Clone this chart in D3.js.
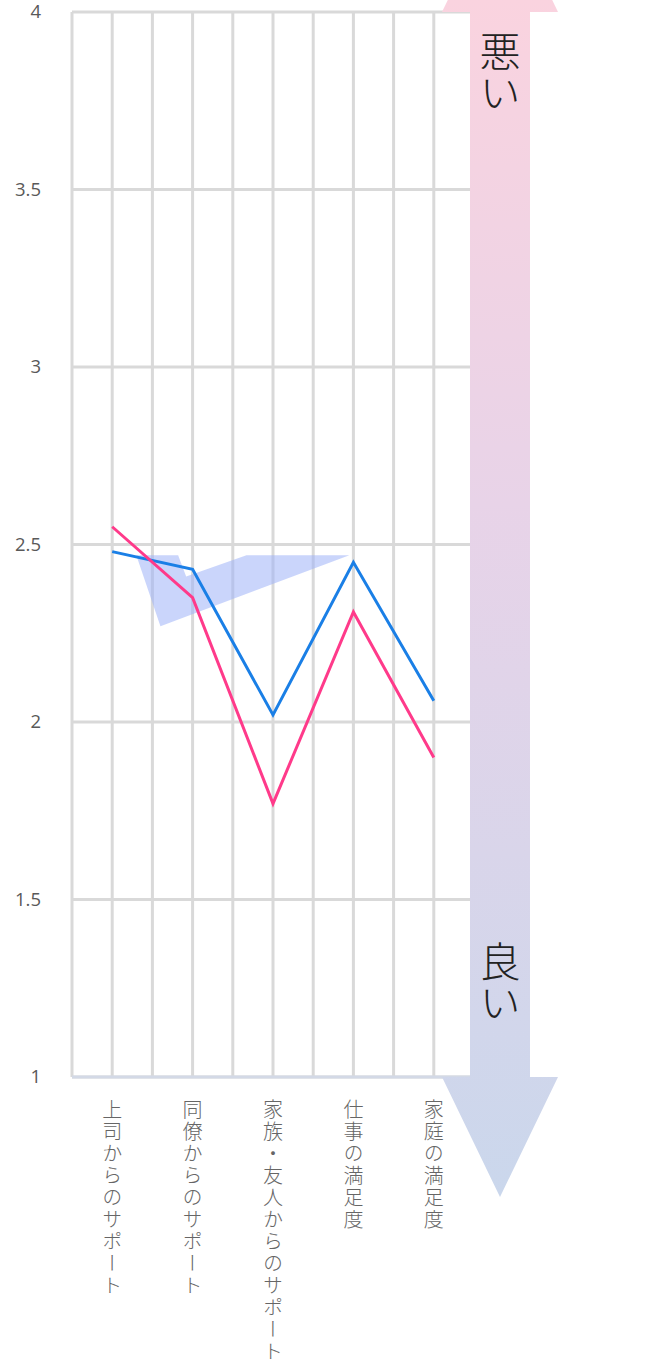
<!DOCTYPE html>
<html>
<head>
<meta charset="utf-8">
<script src="https://cdn.jsdelivr.net/npm/d3@7"></script>
<style>
  body { margin: 0; background: #fff; }
  svg { display: block; }
</style>
</head>
<body>
<div id="chart"></div>
<script>
// categories and series
const categories = ['上司からのサポート', '同僚からのサポート', '家族・友人からのサポート', '仕事の満足度', '家庭の満足度'];
const blueValues = [2.48, 2.43, 2.02, 2.45, 2.06];
const pinkValues = [2.55, 2.35, 1.77, 2.31, 1.90];
const yTicks = [1, 1.5, 2, 2.5, 3, 3.5, 4];

// stray translucent shape (position in category index units, value)
const shapeIdx = [0.3, 0.82, 0.92, 1.67, 2.95, 0.6];
const shapeVal = [2.47, 2.47, 2.41, 2.47, 2.47, 2.27];

const svgWidth = 668;
const svgHeight = 1365;

const margin = { top: 12, right: 194, bottom: 288, left: 72 };
const width = svgWidth - margin.left - margin.right;
const height = svgHeight - margin.top - margin.bottom;

const svg = d3.select('#chart')
  .append('svg')
  .attr('width', svgWidth)
  .attr('height', svgHeight);

const g = svg.append('g')
  .attr('transform', `translate(${margin.left}, ${margin.top})`);

const xScale = d3.scaleBand()
  .domain(categories)
  .range([0, width]);

const yScale = d3.scaleLinear()
  .domain([1, 4])
  .range([height, 0]);

// index -> center of band
const idxScale = d3.scaleLinear()
  .domain([0, categories.length - 1])
  .range([xScale.bandwidth() / 2, width - xScale.bandwidth() / 2]);

const gridColor = '#d9d9d9';

// horizontal grid
g.selectAll('.hgrid')
  .data(yTicks)
  .enter()
  .append('line')
  .attr('x1', 0)
  .attr('x2', width)
  .attr('y1', d => yScale(d))
  .attr('y2', d => yScale(d))
  .attr('stroke', gridColor)
  .attr('stroke-width', 3);

// vertical grid: band edges and centers
const vLines = [];
categories.forEach(c => {
  vLines.push(xScale(c));
  vLines.push(xScale(c) + xScale.bandwidth() / 2);
});
vLines.push(width);

g.selectAll('.vgrid')
  .data(vLines)
  .enter()
  .append('line')
  .attr('x1', d => d)
  .attr('x2', d => d)
  .attr('y1', yScale(4))
  .attr('y2', yScale(1))
  .attr('stroke', gridColor)
  .attr('stroke-width', 3);

// baseline with a faint blue tint
g.append('line')
  .attr('x1', 0)
  .attr('x2', width)
  .attr('y1', yScale(1))
  .attr('y2', yScale(1))
  .attr('stroke', '#d3d9e6')
  .attr('stroke-width', 3);

// y tick labels
g.selectAll('.ytick')
  .data(yTicks)
  .enter()
  .append('text')
  .attr('x', -31)
  .attr('y', d => yScale(d))
  .attr('dy', '0.35em')
  .attr('text-anchor', 'end')
  .style('font-family', '"Open Sans", "Noto Sans", sans-serif')
  .style('font-size', '18.5px')
  .attr('fill', '#595959')
  .text(d => d);

// category labels, vertical
g.selectAll('.xlabel')
  .data(categories)
  .enter()
  .append('text')
  .attr('x', d => xScale(d) + xScale.bandwidth() / 2)
  .attr('y', height + 22)
  .style('writing-mode', 'vertical-rl')
  .style('font-family', '"Noto Sans CJK JP", sans-serif')
  .style('font-size', '20px')
  .style('letter-spacing', '2px')
  .style('font-weight', 300)
  .attr('fill', '#666')
  .text(d => d);

// translucent shape
const shapePts = shapeIdx.map((v, i) => [idxScale(v), yScale(shapeVal[i])]);
g.append('path')
  .attr('d', d3.line()(shapePts) + 'Z')
  .attr('fill', '#9fb3f7')
  .attr('opacity', 0.55);

// lines
const line = d3.line()
  .x((d, i) => idxScale(i))
  .y(d => yScale(d));

g.append('path')
  .attr('d', line(blueValues))
  .attr('fill', 'none')
  .attr('stroke', '#1a7fe6')
  .attr('stroke-width', 3);

g.append('path')
  .attr('d', line(pinkValues))
  .attr('fill', 'none')
  .attr('stroke', '#ff3a8a')
  .attr('stroke-width', 3);

// gradient double arrow on the right
const defs = svg.append('defs');
const grad = defs.append('linearGradient')
  .attr('id', 'arrowGrad')
  .attr('gradientUnits', 'userSpaceOnUse')
  .attr('x1', 0).attr('x2', 0)
  .attr('y1', 0).attr('y2', 1200);
grad.append('stop').attr('offset', '0%').attr('stop-color', '#fad3df');
grad.append('stop').attr('offset', '42%').attr('stop-color', '#e8d3e8');
grad.append('stop').attr('offset', '100%').attr('stop-color', '#cad7ec');

const ax = margin.left + width - 4;   // arrow body left edge
const bodyW = 60;
const headHalf = 58;
const cx = ax + bodyW / 2;
const yTop = margin.top + yScale(4);
const yBot = margin.top + yScale(1);
const headLen = 120;

const arrowPts = [
  [ax, yTop], [cx - headHalf, yTop], [cx, yTop - headLen], [cx + headHalf, yTop], [ax + bodyW, yTop],
  [ax + bodyW, yBot], [cx + headHalf, yBot], [cx, yBot + headLen], [cx - headHalf, yBot], [ax, yBot]
];

svg.append('path')
  .attr('d', d3.line()(arrowPts) + 'Z')
  .attr('fill', 'url(#arrowGrad)');

svg.append('text')
  .attr('x', cx)
  .attr('y', yTop + 19)
  .style('writing-mode', 'vertical-rl')
  .style('font-family', '"Noto Sans CJK JP", sans-serif')
  .style('font-size', '41px')
  .style('font-weight', 300)
  .attr('fill', '#222')
  .text('悪い');

svg.append('text')
  .attr('x', cx)
  .attr('y', yBot - 136)
  .style('writing-mode', 'vertical-rl')
  .style('font-family', '"Noto Sans CJK JP", sans-serif')
  .style('font-size', '41px')
  .style('font-weight', 300)
  .attr('fill', '#222')
  .text('良い');
</script>
</body>
</html>
